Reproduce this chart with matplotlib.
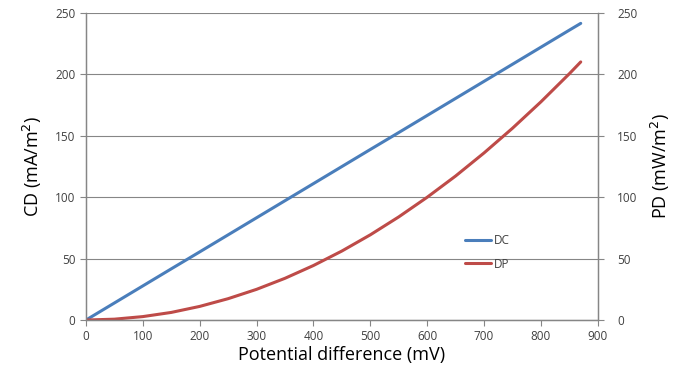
import matplotlib.pyplot as plt

# potential difference (mV) and the two measured series
voltage = [0, 50, 100, 150, 200, 250, 300, 350, 400, 450, 500, 550, 600, 650, 700, 750, 800, 850, 870]
dc = [0, 13.9, 27.8, 41.7, 55.5, 69.4, 83.3, 97.2, 111.1, 125.0, 138.9, 152.7, 166.6, 180.5, 194.4, 208.3, 222.2, 236.1, 241.6]
dp = [0, 0.7, 2.8, 6.2, 11.1, 17.4, 25.0, 34.0, 44.4, 56.2, 69.4, 84.0, 100.0, 117.3, 136.1, 156.2, 177.7, 200.6, 210.2]

x_ticks = [0, 100, 200, 300, 400, 500, 600, 700, 800, 900]
y_ticks = [0, 50, 100, 150, 200, 250]

plt.rcParams['font.family'] = ['Open Sans', 'DejaVu Sans']
tick_color = '#404040'
axis_gray = '#868686'

fig = plt.figure(figsize=(6.77, 3.73), dpi=100)
ax = fig.add_axes([0.127, 0.142, 0.756, 0.823])
ax2 = ax.twinx()

ax.plot(voltage, dc, color='#4A7EBB', lw=2.2, label='DC', solid_capstyle='round')
ax.plot(voltage, dp, color='#BE4B48', lw=2.2, label='DP', solid_capstyle='round')

for a in (ax, ax2):
    a.set_xlim(0, 900)
    a.set_ylim(0, 250)
    a.set_yticks(y_ticks)
    a.tick_params(axis='both', labelsize=8.5, colors=tick_color, length=4, width=0.8)
    for s in a.spines.values():
        s.set_color(axis_gray)
        s.set_linewidth(0.9)
    a.spines['top'].set_visible(False)

ax.set_xticks(x_ticks)
ax.grid(axis='y', color=axis_gray, lw=0.8)
ax.set_axisbelow(True)
ax.tick_params(axis='y', colors=axis_gray, labelcolor=tick_color)
ax.tick_params(axis='x', colors=axis_gray, labelcolor=tick_color)
ax2.tick_params(axis='y', colors=axis_gray, labelcolor=tick_color, pad=10)

ax.set_xlabel('Potential difference (mV)', fontsize=13, labelpad=2)
ax.set_ylabel('CD (mA/m$^2$)', fontsize=13, labelpad=8)
ax2.set_ylabel('PD (mW/m$^2$)', fontsize=13, labelpad=8)

leg = ax.legend(loc='upper left', bbox_to_anchor=(0.72, 0.315), frameon=False,
                fontsize=8.5, handlelength=2.2, handletextpad=0.2, labelspacing=0.9)
for t in leg.get_texts():
    t.set_color(tick_color)

fig.savefig('out.png', dpi=100)
